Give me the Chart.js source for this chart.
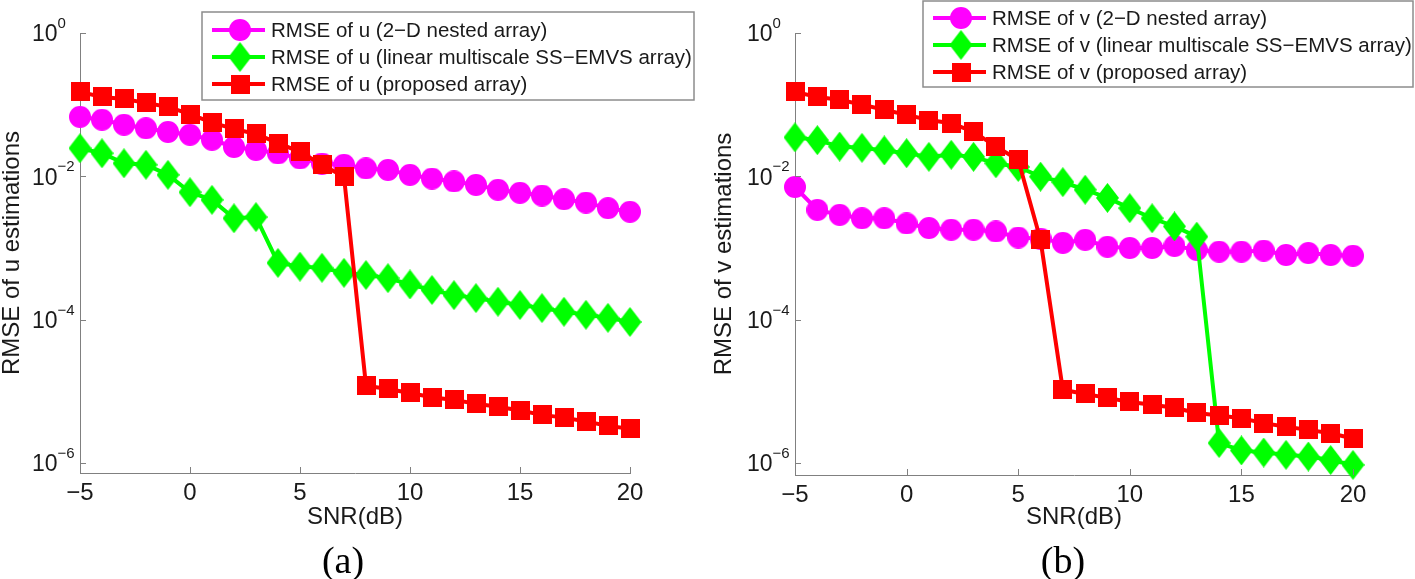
<!DOCTYPE html>
<html>
<head>
<meta charset="utf-8">
<script src="https://cdn.jsdelivr.net/npm/chart.js@4.4.1/dist/chart.umd.min.js"></script>
<style>
  body { margin: 0; background: #fff; }
  #wrap { position: relative; width: 1415px; height: 579px; overflow: hidden; }
  canvas { position: absolute; top: 0; }
  #cA { left: 0; }
  #cB { left: 700px; }
  .cap { position: absolute; font-family: "Liberation Serif", "Times New Roman", serif; font-size: 38px; color: #000; transform: translate(-50%, -50%); }
</style>
</head>
<body>
<div id="wrap">
  <canvas id="cA" width="700" height="579"></canvas>
  <canvas id="cB" width="715" height="579"></canvas>
  <div class="cap" style="left:343px; top:560px">(a)</div>
  <div class="cap" style="left:1063px; top:560px">(b)</div>
</div>
<script>
// SNR values on the x axis
const snr = [-5, -4, -3, -2, -1, 0, 1, 2, 3, 4, 5, 6, 7, 8, 9, 10, 11, 12, 13, 14, 15, 16, 17, 18, 19, 20];
const xTicks = [-5, 0, 5, 10, 15, 20];
const yTicks = [1, 1e-2, 1e-4, 1e-6];

// (a) RMSE of u
const uNested = [0.0676, 0.0617, 0.0525, 0.0468, 0.0417, 0.038, 0.0324, 0.0257, 0.0234, 0.0209, 0.0178, 0.0151, 0.0145,
  0.0129, 0.0123, 0.0105, 0.0093, 0.0085, 0.0076, 0.0065, 0.0059, 0.0054, 0.0048, 0.0043, 0.0036, 0.0032];
const uLinear = [0.0247, 0.021, 0.0152, 0.0145, 0.0105, 0.006, 0.0047, 0.0026, 0.0027, 6.2e-4, 5.5e-4, 5.3e-4, 4.5e-4,
  4.2e-4, 3.8e-4, 3.1e-4, 2.6e-4, 2.2e-4, 2.0e-4, 1.78e-4, 1.6e-4, 1.45e-4, 1.29e-4, 1.17e-4, 1.06e-4, 9.3e-5];
const uProposed = [0.151, 0.128, 0.12, 0.106, 0.093, 0.074, 0.056, 0.046, 0.039, 0.029, 0.022, 0.0145, 0.0099,
  1.2e-5, 1.08e-5, 9.5e-6, 8.3e-6, 7.6e-6, 6.7e-6, 6.1e-6, 5.4e-6, 4.7e-6, 4.3e-6, 3.8e-6, 3.3e-6, 3.0e-6];

// (b) RMSE of v
const vNested = [0.0071, 0.0034, 0.0029, 0.0026, 0.0026, 0.0022, 0.0019, 0.0018, 0.0018, 0.0017, 0.0014, 0.00135, 0.00118,
  0.0013, 0.00104, 0.001, 0.001, 0.00107, 0.00094, 0.00089, 0.00089, 0.00092, 0.0008, 0.00085, 0.0008, 0.00078];
const vLinear = [0.035, 0.032, 0.026, 0.025, 0.023, 0.021, 0.0187, 0.02, 0.0187, 0.0152, 0.0135, 0.0099, 0.0083,
  0.0065, 0.005, 0.0036, 0.0026, 0.002, 0.00144, 1.9e-6, 1.5e-6, 1.4e-6, 1.3e-6, 1.23e-6, 1.1e-6, 9.4e-7];
const vProposed = [0.151, 0.128, 0.117, 0.1, 0.085, 0.072, 0.061, 0.055, 0.042, 0.026, 0.017, 0.0013, 1.05e-5,
  9.2e-6, 8.1e-6, 7.1e-6, 6.5e-6, 5.9e-6, 5.0e-6, 4.6e-6, 4.2e-6, 3.6e-6, 3.2e-6, 2.9e-6, 2.6e-6, 2.2e-6];

const FONT = '"Liberation Sans", Arial, sans-serif';
const AXIS = '#808080';
const TXT = '#1a1a1a';
Chart.defaults.font.family = FONT;
Chart.defaults.color = TXT;

// marker images (circle / diamond / square like matlab 'o' 'd' 's')
function marker(kind, color) {
  const c = document.createElement('canvas');
  let w = 22, h = 22;
  if (kind === 'square') { w = h = 19; }
  if (kind === 'diamond') { w = 23; h = 30; }
  c.width = w; c.height = h;
  const g = c.getContext('2d');
  g.fillStyle = color;
  g.beginPath();
  if (kind === 'circle') g.arc(w / 2, h / 2, w / 2, 0, Math.PI * 2);
  else if (kind === 'square') g.rect(0, 0, w, h);
  else { g.moveTo(w / 2, 0); g.lineTo(w, h / 2); g.lineTo(w / 2, h); g.lineTo(0, h / 2); g.closePath(); }
  g.fill();
  return c;
}

function series(label, values, color, kind, order) {
  return {
    label: label,
    data: values.map((v, i) => ({ x: snr[i], y: v })),
    borderColor: color,
    backgroundColor: color,
    borderWidth: 4,
    pointStyle: marker(kind, color),
    pointRadius: 11,
    pointHoverRadius: 11,
    clip: false,
    order: order
  };
}

// inward ticks, 10^k labels and the boxed legend
const decor = {
  id: 'decor',
  afterDraw(chart, args, o) {
    const ctx = chart.ctx, xs = chart.scales.x, ys = chart.scales.y, a = chart.chartArea;
    ctx.save();
    ctx.strokeStyle = AXIS;
    ctx.lineWidth = 1;
    ctx.beginPath();
    xs.ticks.forEach(t => {
      const px = Math.round(xs.getPixelForValue(t.value)) + 0.5;
      ctx.moveTo(px, a.bottom); ctx.lineTo(px, a.bottom - 6);
    });
    ys.ticks.forEach(t => {
      const py = Math.round(ys.getPixelForValue(t.value)) + 0.5;
      ctx.moveTo(a.left, py); ctx.lineTo(a.left + 6, py);
    });
    ctx.stroke();

    ctx.fillStyle = TXT;
    ctx.textAlign = 'left';
    ctx.textBaseline = 'middle';
    ys.ticks.forEach(t => {
      const py = ys.getPixelForValue(t.value);
      const e = Math.round(Math.log10(t.value));
      const x0 = a.left - 48;
      ctx.font = '23px ' + FONT;
      ctx.fillText('10', x0, py + 2);
      const w = ctx.measureText('10').width;
      ctx.font = '15px ' + FONT;
      ctx.fillText(e === 0 ? '0' : '\u2212' + (-e), x0 + w, py - 9);
    });

    // legend box
    ctx.fillStyle = '#fff';
    ctx.fillRect(o.x, o.y, o.w, o.h);
    ctx.strokeStyle = '#8c8c8c';
    ctx.lineWidth = 1.5;
    ctx.strokeRect(o.x, o.y, o.w, o.h);
    ctx.font = '20.5px ' + FONT;
    chart.data.datasets.forEach((ds, i) => {
      const y = o.row0 + i * o.gap;
      ctx.strokeStyle = ds.borderColor;
      ctx.lineWidth = 4;
      ctx.beginPath();
      ctx.moveTo(o.x + 10, y); ctx.lineTo(o.x + 63, y);
      ctx.stroke();
      const img = ds.pointStyle;
      ctx.drawImage(img, o.x + 38 - img.width / 2, y - img.height / 2);
      ctx.fillStyle = TXT;
      ctx.fillText(ds.label, o.x + 69, y + 1);
    });
    ctx.restore();
  }
};

function makeChart(id, v, cfg) {
  new Chart(document.getElementById(id), {
    type: 'line',
    data: {
      datasets: [
        series('RMSE of ' + v + ' (2\u2212D nested array)', cfg.nested, '#ff00ff', 'circle', 3),
        series('RMSE of ' + v + ' (linear multiscale SS\u2212EMVS array)', cfg.linear, '#00ff00', 'diamond', 2),
        series('RMSE of ' + v + ' (proposed array)', cfg.proposed, '#ff0000', 'square', 1)
      ]
    },
    options: {
      responsive: false,
      animation: false,
      events: [],
      layout: { padding: { top: 33, right: cfg.padRight, left: 0, bottom: 0 } },
      plugins: {
        legend: { display: false },
        tooltip: { enabled: false },
        decor: cfg.legend
      },
      scales: {
        x: {
          type: 'linear',
          min: -5,
          max: 20,
          afterBuildTicks: s => { s.ticks = xTicks.map(t => ({ value: t })); },
          afterFit: s => { s.height = cfg.xHeight; },
          grid: { display: false, drawTicks: false },
          border: { color: AXIS, width: 1 },
          ticks: {
            padding: 6,
            color: TXT,
            font: { size: 24 },
            callback: t => String(t).replace('-', '\u2212')
          },
          title: {
            display: true,
            text: 'SNR(dB)',
            color: TXT,
            font: { size: 24, lineHeight: 1.2 },
            padding: { top: 0, bottom: cfg.xTitlePad }
          }
        },
        y: {
          type: 'logarithmic',
          min: cfg.yMin,
          max: 1,
          afterBuildTicks: s => { s.ticks = yTicks.map(t => ({ value: t })); },
          afterFit: s => { s.width = cfg.yWidth; },
          grid: { display: false, drawTicks: false },
          border: { color: AXIS, width: 1 },
          ticks: { display: false },
          title: {
            display: true,
            text: 'RMSE of ' + v + ' estimations',
            color: TXT,
            font: { size: 24, lineHeight: 1 },
            padding: { top: cfg.yTitlePad, bottom: 0 }
          }
        }
      }
    },
    plugins: [decor]
  });
}

makeChart('cA', 'u', {
  nested: uNested, linear: uLinear, proposed: uProposed,
  padRight: 70, xHeight: 106, yWidth: 80, yMin: 7.26e-7, xTitlePad: 47, yTitlePad: 0,
  legend: { x: 202, y: 12, w: 492, h: 88, row0: 30, gap: 27 }
});

makeChart('cB', 'v', {
  nested: vNested, linear: vLinear, proposed: vProposed,
  padRight: 62, xHeight: 104, yWidth: 95, yMin: 6.8e-7, xTitlePad: 47, yTitlePad: 12,
  legend: { x: 223, y: 1, w: 490, h: 86, row0: 18, gap: 27 }
});
</script>
</body>
</html>
